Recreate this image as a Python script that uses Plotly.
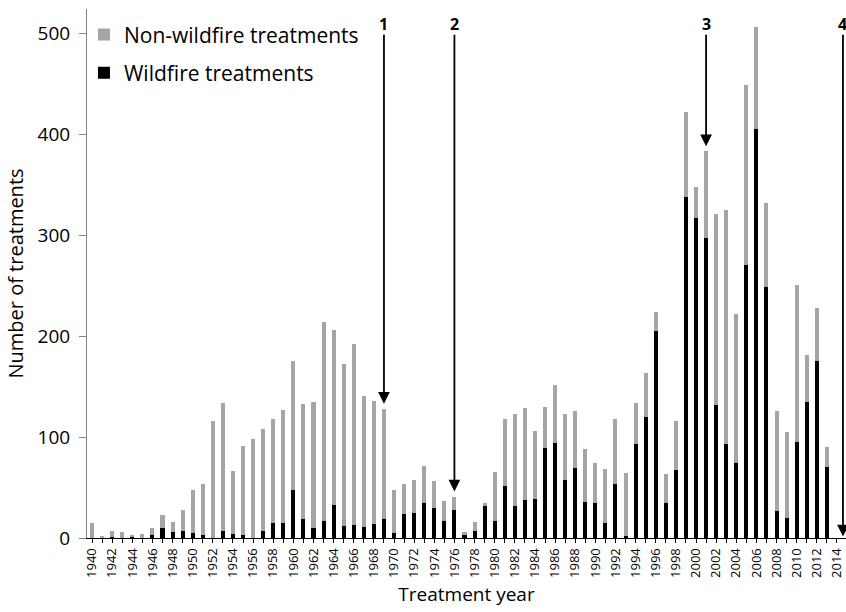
import plotly.graph_objects as go

years = list(range(1940, 2015))

wildfire = [0, 0, 1, 0, 1, 0, 3, 10, 6, 7,
            5, 3, 0, 7, 4, 3, 0, 7, 15, 15,
            48, 19, 10, 17, 33, 12, 13, 11, 14, 19,
            5, 24, 25, 35, 30, 17, 28, 3, 7, 32,
            17, 52, 32, 38, 39, 89, 94, 57, 69, 36,
            35, 15, 53, 2, 93, 120, 205, 35, 67, 338,
            317, 297, 132, 93, 74, 270, 405, 249, 27, 20,
            95, 135, 175, 70, 0]

nonwildfire = [15, 1, 6, 6, 1, 4, 7, 13, 10, 21,
               43, 50, 116, 127, 62, 88, 98, 101, 103, 112,
               127, 114, 125, 197, 173, 160, 179, 130, 122, 109,
               43, 29, 32, 36, 26, 20, 13, 3, 9, 3,
               48, 66, 91, 91, 67, 41, 58, 66, 57, 52,
               39, 53, 65, 62, 41, 43, 19, 28, 49, 84,
               31, 86, 189, 232, 148, 179, 101, 83, 99, 85,
               156, 46, 53, 20, 0]

tick_years = list(range(1940, 2015, 2))
tick_labels = [str(y) for y in tick_years]

event_labels = ["1", "2", "3", "4"]
event_years = [1969, 1976, 2001, 2014.6]

GRAY = "#a5a5a5"
FONT = "Open Sans"

fig = go.Figure()
fig.add_trace(go.Bar(x=years, y=wildfire, name="Wildfire treatments",
                     marker=dict(color="#000000", line=dict(width=0)),
                     legendgroup="w", legendrank=2))
fig.add_trace(go.Bar(x=years, y=nonwildfire, name="Non-wildfire treatments",
                     marker=dict(color=GRAY, line=dict(width=0)),
                     legendgroup="n", legendrank=1))

totals = {y: w + n for y, w, n in zip(years, wildfire, nonwildfire)}

annotations = []
for lab, ey in zip(event_labels, event_years):
    base = totals.get(ey, 0)
    tip = base + 5 if base > 0 else 1.5
    annotations.append(dict(x=ey, y=tip, xref="x", yref="y",
                            ax=ey, ay=500, axref="x", ayref="y",
                            text="", showarrow=True, arrowhead=2,
                            arrowsize=1.3, arrowwidth=1.8, arrowcolor="#000000",
                            standoff=0, startstandoff=0))
    annotations.append(dict(x=ey, y=500, xref="x", yref="y", text="<b>%s</b>" % lab,
                            showarrow=False, yanchor="bottom", yshift=-4,
                            font=dict(family=FONT, size=16, color="#000000")))

fig.update_layout(
    width=846, height=612,
    margin=dict(l=87, r=0, t=9, b=74),
    paper_bgcolor="white", plot_bgcolor="white",
    barmode="stack", bargap=0.6,
    font=dict(family=FONT, color="#000000"),
    showlegend=True,
    legend=dict(x=-0.004, y=0.99, xanchor="left", yanchor="top",
                traceorder="grouped", tracegroupgap=8,
                font=dict(family=FONT, size=21, color="#000000"),
                bgcolor="rgba(0,0,0,0)"),
    annotations=annotations,
    xaxis=dict(range=[1939.5, 2014.9], tickmode="array",
               tickvals=tick_years, ticktext=tick_labels, tickangle=-90,
               ticks="outside", ticklen=4, tickcolor="#000000",
               ticklabeloverflow="allow",
               minor=dict(dtick=1, tick0=1940, ticks="outside", ticklen=4, tickcolor="#000000"),
               tickfont=dict(family=FONT, size=13, color="#000000"),
               showline=True, linecolor="#000000", linewidth=1,
               showgrid=False, zeroline=False, automargin=False,
               title=dict(text="Treatment year", font=dict(family=FONT, size=19), standoff=10)),
    yaxis=dict(range=[0, 524], tickvals=[0, 100, 200, 300, 400, 500],
               ticks="outside", ticklen=7, tickcolor="#868686",
               ticklabelstandoff=5,
               tickfont=dict(family=FONT, size=19, color="#000000"),
               showline=True, linecolor="#868686", linewidth=1,
               showgrid=False, zeroline=False, automargin=False,
               title=dict(text="Number of treatments", font=dict(family=FONT, size=20), standoff=8)),
)

fig.write_html("out.html",
               config={"displayModeBar": False},
               post_script="document.body.style.margin='0px';"
                           "document.body.style.overflow='hidden';"
                           "document.documentElement.style.overflow='hidden';")
